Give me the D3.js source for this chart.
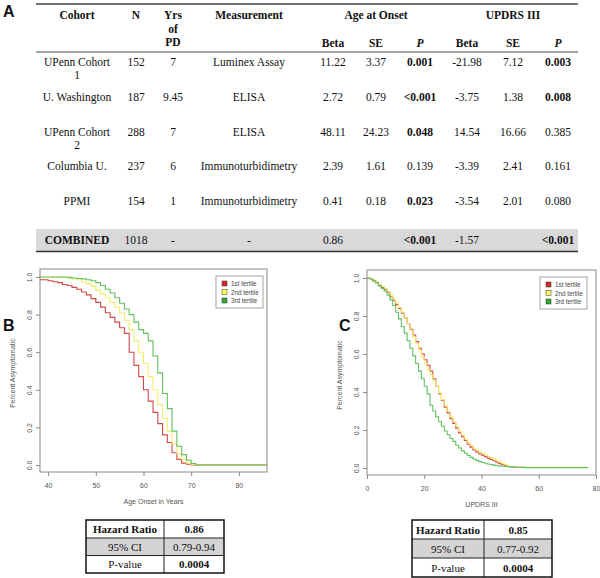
<!DOCTYPE html>
<html><head><meta charset="utf-8">
<script src="https://cdn.jsdelivr.net/npm/d3@7"></script>
<style>body{margin:0;background:#fff}svg{display:block;background:#fff}</style>
</head><body><svg id="c" width="600" height="578"></svg>
<script>
// ---------- Table A data ----------
const headers = ["Cohort","N","Yrs of PD","Measurement"];
const cohorts = [["UPenn Cohort","1"],["U. Washington"],["UPenn Cohort","2"],["Columbia U."],["PPMI"]];
const nSubjects = ["152","187","288","237","154"];
const yrsPD = ["7","9.45","7","6","1"];
const measurement = ["Luminex Assay","ELISA","ELISA","Immunoturbidimetry","Immunoturbidimetry"];
const onsetBeta = ["11.22","2.72","48.11","2.39","0.41"];
const onsetSE = ["3.37","0.79","24.23","1.61","0.18"];
const onsetP = ["0.001","<0.001","0.048","0.139","0.023"];
const updrsBeta = ["-21.98","-3.75","14.54","-3.39","-3.54"];
const updrsSE = ["7.12","1.38","16.66","2.41","2.01"];
const updrsP = ["0.003","0.008","0.385","0.161","0.080"];
const combinedRow = ["COMBINED","1018","-","-","0.86","","<0.001","-1.57","","<0.001"];

// ---------- Panel B data (age at onset, by tertile) ----------
const ageTimes = [38.3,40,41,42,43,44,45,46,47,48,49,50,51,52,53,54,55,56,57,58,59,60,61,62,63,64,65,66,67,68,69,70,71,85.9];
const ageT1 = [0.985,0.98,0.975,0.97,0.96,0.955,0.945,0.935,0.92,0.905,0.885,0.865,0.84,0.81,0.785,0.76,0.73,0.70,0.60,0.53,0.47,0.40,0.34,0.28,0.22,0.16,0.12,0.065,0.03,0.01,0.004,0,0,0];
const ageT2 = [1,1,1,0.998,0.996,0.994,0.99,0.985,0.975,0.965,0.95,0.93,0.91,0.89,0.865,0.84,0.81,0.77,0.72,0.66,0.60,0.54,0.47,0.40,0.32,0.25,0.18,0.11,0.06,0.03,0.01,0.003,0,0];
const ageT3 = [1,1,1,1,1,0.998,0.995,0.992,0.99,0.985,0.98,0.97,0.955,0.935,0.915,0.89,0.86,0.83,0.80,0.76,0.72,0.70,0.66,0.58,0.49,0.38,0.30,0.18,0.10,0.055,0.025,0.008,0,0];

// ---------- Panel C data (UPDRS III, by tertile) ----------
const updrsTimes = [0,1,2,3,4,5,6,7,8,9,10,11,12,13,14,15,16,17,18,19,20,21,22,23,24,25,26,27,28,29,30,31,32,33,34,35,36,37,38,39,40,41,42,43,44,45,46,47,48,49,50,52,55,77];
const updT1 = [1,0.995,0.985,0.975,0.96,0.95,0.94,0.925,0.90,0.88,0.86,0.84,0.815,0.79,0.76,0.73,0.70,0.665,0.63,0.60,0.57,0.54,0.51,0.47,0.43,0.39,0.355,0.32,0.29,0.26,0.235,0.21,0.185,0.165,0.145,0.125,0.11,0.095,0.085,0.075,0.068,0.06,0.052,0.045,0.038,0.03,0.023,0.017,0.012,0.008,0.005,0.004,0.003,0.003];
const updT2 = [1,0.995,0.99,0.98,0.965,0.955,0.945,0.93,0.91,0.89,0.87,0.845,0.82,0.79,0.76,0.725,0.69,0.655,0.62,0.585,0.55,0.52,0.49,0.46,0.43,0.395,0.36,0.33,0.30,0.27,0.245,0.22,0.195,0.175,0.155,0.135,0.12,0.105,0.095,0.085,0.077,0.07,0.062,0.055,0.047,0.04,0.032,0.025,0.018,0.012,0.008,0.005,0.004,0.004];
const updT3 = [1,0.995,0.985,0.975,0.96,0.945,0.93,0.91,0.885,0.855,0.82,0.785,0.745,0.71,0.67,0.63,0.59,0.55,0.51,0.47,0.43,0.39,0.33,0.30,0.27,0.245,0.22,0.195,0.175,0.155,0.14,0.12,0.105,0.09,0.078,0.066,0.056,0.047,0.04,0.034,0.029,0.025,0.021,0.018,0.015,0.012,0.01,0.009,0.008,0.007,0.006,0.004,0.002,0.001];

const tertileNames = ["1st tertile","2nd tertile","3rd tertile"];
const ageTicks = [40,50,60,70,80];
const updrsTicks = [0,20,40,60,80];
const survTicks = [0,0.2,0.4,0.6,0.8,1.0];

// ---------- Hazard tables ----------
const hrLabels = ["Hazard Ratio","95% CI","P-value"];
const hrAge = ["0.86","0.79-0.94","0.0004"];
const hrUpdrs = ["0.85","0.77-0.92","0.0004"];

// ================= drawing =================
const svg = d3.select("#c");
const serif = "'Liberation Serif','Times New Roman',serif";
const sans = "'Liberation Sans',Arial,sans-serif";
const lineColors = ["#d44848","#f1ec6c","#62c062"];
const legendFill = ["#d42a2a","#ffff55","#2faa2f"];

svg.append("rect").attr("width",600).attr("height",578).attr("fill","#fff");

// panel letters
[["A",3,17],["B",3,331],["C",339,331]].forEach(([t,x,y])=>{
  svg.append("text").attr("x",x).attr("y",y).text(t)
    .attr("font-family",sans).attr("font-weight","bold").attr("font-size",16).attr("fill","#111");
});

// ---------- Table A ----------
const colKeys = ["cohort","n","yrs","meas","ob","ose","op","ub","use","up"];
const colX = d3.scaleOrdinal().domain(colKeys).range([77,136,173,249,333,376,420,467,513,558]);
const rowY = d3.scaleLinear().domain([0,4]).range([62,201]);
const tA = svg.append("g").attr("font-family",serif).attr("font-size",11.5).attr("fill","#111");
const txt = (g,x,y,s,opts={}) => g.append("text").attr("x",x).attr("y",y).attr("text-anchor","middle")
   .attr("dominant-baseline","central").text(s)
   .attr("font-weight",opts.bold?"bold":null).attr("font-style",opts.italic?"italic":null);

// combined band + rules
tA.append("rect").attr("x",36).attr("y",229).attr("width",542).attr("height",22).attr("fill","#d9d9d9");
tA.append("line").attr("x1",36).attr("x2",578).attr("y1",4).attr("y2",4).attr("stroke","#444").attr("stroke-width",1.5);
tA.append("line").attr("x1",36).attr("x2",578).attr("y1",52).attr("y2",52).attr("stroke","#444").attr("stroke-width",1);
tA.append("line").attr("x1",36).attr("x2",578).attr("y1",251.5).attr("y2",251.5).attr("stroke","#333").attr("stroke-width",1.5);

// headers
txt(tA,colX("cohort"),15,headers[0],{bold:true});
txt(tA,colX("n"),15,headers[1],{bold:true});
headers[2].split(" ").forEach((w,i)=>txt(tA,colX("yrs"),15+i*13.5,w,{bold:true}));
txt(tA,colX("meas"),15,headers[3],{bold:true});
txt(tA,colX("ose"),15,"Age at Onset",{bold:true});
txt(tA,colX("use"),15,"UPDRS III",{bold:true});
["ob","ose","op","ub","use","up"].forEach((k,i)=>{
  const lab = ["Beta","SE","P"][i%3];
  txt(tA,colX(k),43,lab,{bold:true,italic:lab==="P"});
});

const sig = s => s.startsWith("<") || parseFloat(s) < 0.05;
cohorts.forEach((c,i)=>{
  const y = rowY(i);
  c.forEach((line,j)=>txt(tA,colX("cohort"),y+j*13,line));
  txt(tA,colX("n"),y,nSubjects[i]);
  txt(tA,colX("yrs"),y,yrsPD[i]);
  txt(tA,colX("meas"),y,measurement[i]);
  txt(tA,colX("ob"),y,onsetBeta[i]);
  txt(tA,colX("ose"),y,onsetSE[i]);
  txt(tA,colX("op"),y,onsetP[i],{bold:sig(onsetP[i])});
  txt(tA,colX("ub"),y,updrsBeta[i]);
  txt(tA,colX("use"),y,updrsSE[i]);
  txt(tA,colX("up"),y,updrsP[i],{bold:sig(updrsP[i])});
});
combinedRow.forEach((s,i)=>{
  if(!s) return;
  const bold = i===0 || ((i===6||i===9) && sig(s));
  txt(tA,colX(colKeys[i]),240,s,{bold});
});

// ---------- survival plot helper ----------
function survPlot(o){
  const g = svg.append("g");
  const x = d3.scaleLinear().domain(o.xDomain).range([o.left,o.right]);
  const y = d3.scaleLinear().domain([0,1]).range([o.y0,o.y1]);
  // curves
  const line = d3.line().x(d=>x(d[0])).y(d=>y(d[1])).curve(d3.curveStepAfter);
  o.series.forEach((s,k)=>{
    g.append("path").datum(o.times.map((t,i)=>[t,s[i]]))
      .attr("d",line).attr("fill","none").attr("stroke",lineColors[k]).attr("stroke-width",1.1);
  });
  // box
  g.append("rect").attr("x",o.left).attr("y",o.top).attr("width",o.right-o.left).attr("height",o.bottom-o.top)
    .attr("fill","none").attr("stroke","#8a8a8a").attr("stroke-width",1);
  // axes
  const ax = g.append("g").attr("transform",`translate(0,${o.bottom})`)
    .call(d3.axisBottom(x).tickValues(o.xTicks).tickSize(4).tickFormat(d3.format("d")));
  ax.select(".domain").remove();
  ax.selectAll("line").attr("stroke","#8a8a8a");
  ax.selectAll("text").attr("y",11).attr("font-family",sans).attr("font-size",7).attr("fill","#555");
  const ay = g.append("g").attr("transform",`translate(${o.left},0)`)
    .call(d3.axisLeft(y).tickValues(survTicks).tickSize(4).tickFormat(d3.format(".1f")));
  ay.select(".domain").remove();
  ay.selectAll("line").attr("stroke","#8a8a8a");
  ay.selectAll("text").attr("x",0).attr("y",-8).attr("dy",null).attr("text-anchor","middle")
    .attr("transform","rotate(-90)").attr("font-family",sans).attr("font-size",7).attr("fill","#555");
  // axis titles
  g.append("text").attr("x",(o.left+o.right)/2).attr("y",o.bottom+32).attr("text-anchor","middle")
    .attr("font-family",sans).attr("font-size",7).attr("fill","#555").text(o.xTitle);
  g.append("text").attr("transform",`translate(${o.yTitleX},${(o.y0+o.y1)/2+2}) rotate(-90)`)
    .attr("text-anchor","middle").attr("font-family",sans).attr("font-size",7).attr("fill","#555").text("Percent Asymptomatic");
  // legend
  const lg = g.append("g").attr("transform",`translate(${o.legX},${o.legY})`);
  lg.append("rect").attr("width",47).attr("height",32).attr("fill","#fff").attr("stroke","#8a8a8a").attr("stroke-width",0.8);
  tertileNames.forEach((nm,k)=>{
    lg.append("rect").attr("x",6).attr("y",5+k*8.5).attr("width",5).attr("height",5)
      .attr("fill",legendFill[k]).attr("stroke","#333").attr("stroke-width",0.5);
    lg.append("text").attr("x",15).attr("y",7.7+k*8.5).attr("dominant-baseline","central")
      .attr("font-family",sans).attr("font-size",6.3).attr("fill","#444").text(nm);
  });
}

survPlot({xDomain:[38.3,85.9],left:40,right:267,top:269,bottom:472,y0:465,y1:277,
  times:ageTimes,series:[ageT1,ageT2,ageT3],xTicks:ageTicks,xTitle:"Age Onset in Years",
  yTitleX:15,legX:216,legY:276});
survPlot({xDomain:[0,80],left:367,right:596,top:270,bottom:475,y0:468,y1:278,
  times:updrsTimes,series:[updT1,updT2,updT3],xTicks:updrsTicks,xTitle:"UPDRS III",
  yTitleX:342,legX:540,legY:277});

// ---------- hazard tables ----------
function hrTable(xs,ys,vals){
  const g = svg.append("g").attr("font-family",serif).attr("font-size",11).attr("fill","#111");
  g.append("rect").attr("x",xs[0]).attr("y",ys[1]).attr("width",xs[2]-xs[0]).attr("height",ys[2]-ys[1]).attr("fill","#d4d4d4");
  hrLabels.forEach((lab,i)=>{
    const cy=(ys[i]+ys[i+1])/2;
    g.append("text").attr("x",(xs[0]+xs[1])/2).attr("y",cy).attr("text-anchor","middle").attr("dominant-baseline","central")
      .attr("font-weight",i===0?"bold":null).text(lab);
    g.append("text").attr("x",(xs[1]+xs[2])/2).attr("y",cy).attr("text-anchor","middle").attr("dominant-baseline","central")
      .attr("font-weight",i!==1?"bold":null).text(vals[i]);
  });
  [ys[1],ys[2]].forEach(yy=>g.append("line").attr("x1",xs[0]).attr("x2",xs[2]).attr("y1",yy).attr("y2",yy).attr("stroke","#222").attr("stroke-width",1));
  g.append("line").attr("x1",xs[1]).attr("x2",xs[1]).attr("y1",ys[0]).attr("y2",ys[3]).attr("stroke","#222").attr("stroke-width",1);
  g.append("rect").attr("x",xs[0]).attr("y",ys[0]).attr("width",xs[2]-xs[0]).attr("height",ys[3]-ys[0])
    .attr("fill","none").attr("stroke","#111").attr("stroke-width",1.5);
}
hrTable([86,164,224],[520,538,555.5,573],hrAge);
hrTable([412,484,552],[520,539,558,577],hrUpdrs);
</script></body></html>
